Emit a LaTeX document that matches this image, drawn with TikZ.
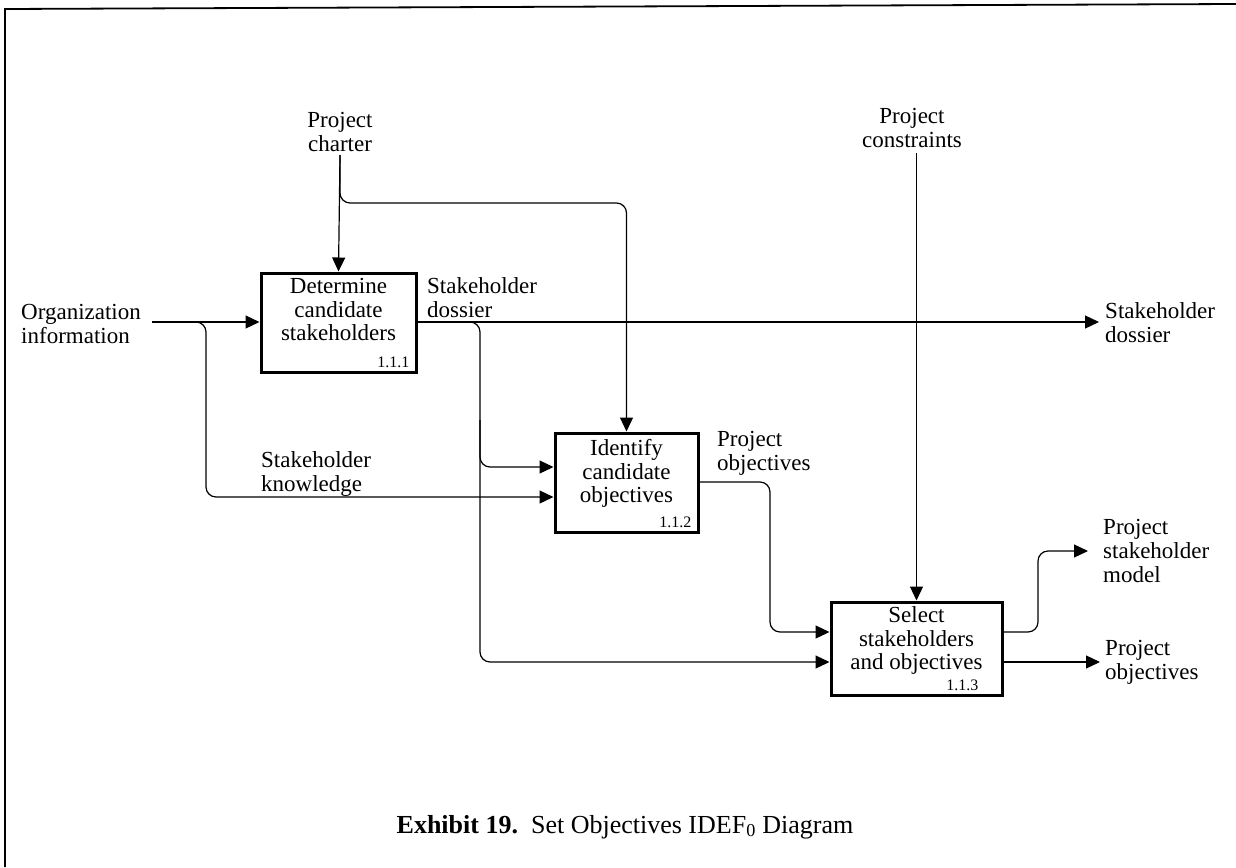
\documentclass[tikz,border=0pt]{standalone}
\usepackage{fontspec}
\setmainfont{Liberation Serif}
\usetikzlibrary{arrows.meta,calc}

\tikzset{
  flow/.style={line width=1.2pt, -{Triangle[length=14pt,width=13pt]}},
  elbow/.style={rounded corners=10pt},
  actbox/.style={draw, line width=3pt, inner sep=0pt},
  boxtext/.style={align=center, inner sep=0pt, font=\fontsize{23}{23.5}\selectfont},
  boxnum/.style={inner sep=0pt, font=\fontsize{16}{16}\selectfont},
  lbl/.style={inner sep=0pt, font=\fontsize{23}{24}\selectfont},
}

\begin{document}
\begin{tikzpicture}[x=1pt, y=-1pt]
  \useasboundingbox (0,0) rectangle (1236,867);

  % page frame (top and left edges)
  \draw[line width=1.8pt] (5,867) -- (5,9) -- (1236,4);

  % activity boxes
  \node[actbox, minimum width=155pt, minimum height=99pt] (b1) at (338.5,322.5) {};
  \node[actbox, minimum width=143pt, minimum height=99pt] (b2) at (626.5,482.5) {};
  \node[actbox, minimum width=171pt, minimum height=93pt] (b3) at (916.5,648.5) {};

  \node[boxtext, anchor=north] (t1) at ($(b1.north)+(0,7)$) {Determine\\candidate\\stakeholders};
  \node[boxtext, anchor=north] (t2) at ($(b2.north)+(0,8)$) {Identify\\candidate\\objectives};
  \node[boxtext, anchor=north] (t3) at ($(b3.north)+(0,6)$) {Select\\stakeholders\\and objectives};

  \node[boxnum, anchor=south east] (n1) at ($(b1.south east)+(-8,-6)$) {1.1.1};
  \node[boxnum, anchor=south east] (n2) at ($(b2.south east)+(-8,-6)$) {1.1.2};
  \node[boxnum, anchor=south east] (n3) at ($(b3.south east)+(-25,-6)$) {1.1.3};

  % boundary and arrow labels
  \node[lbl, align=left, anchor=west] (org) at (21,323.5) {Organization\\information};
  \node[lbl, align=center] (charter) at (340,132) {Project\\charter};
  \node[lbl, align=center] (constr) at (912,128) {Project\\constraints};
  \node[lbl, align=left, anchor=west] (dos1) at (427,297.5) {Stakeholder\\dossier};
  \node[lbl, align=left, anchor=west] (dos2) at (1105,322.5) {Stakeholder\\dossier};
  \node[lbl, align=left, anchor=west] (know) at (261,474) {Stakeholder\\knowledge};
  \node[lbl, align=left, anchor=west] (pobj1) at (717,453.5) {Project\\objectives};
  \node[lbl, align=left, anchor=west] (psm) at (1103,551) {Project\\stakeholder\\model};
  \node[lbl, align=left, anchor=west] (pobj2) at (1105,662) {Project\\objectives};

  % ports and free ends
  \coordinate (orgEnd) at (152,322);
  \coordinate (charterEnd) at (340,155);
  \coordinate (constrEnd) at (916.5,153);
  \coordinate (b1in) at (b1.west |- orgEnd);
  \coordinate (b1out) at (b1.east |- orgEnd);
  \coordinate (b2in1) at (b2.west |- 0,467);
  \coordinate (b2in2) at (b2.west |- 0,497);
  \coordinate (b2out) at (b2.east |- 0,482);
  \coordinate (b3in1) at (b3.west |- 0,632);
  \coordinate (b3in2) at (b3.west |- 0,662);
  \coordinate (b3out1) at (b3.east |- 0,632);
  \coordinate (b3out2) at (b3.east |- 0,662);
  \coordinate (dosTip) at ($(dos2.west |- orgEnd)+(-6,0)$);
  \coordinate (psmTip) at (1088,551);
  \coordinate (pobjTip) at (1100,662);

  % inputs
  \draw[flow] (orgEnd) -- (b1in);
  \draw[flow, elbow] (orgEnd) -| (206,497) -- (b2in2);

  % controls
  \draw[flow] (charterEnd) -- (b1.north);
  \draw[flow, elbow] (charterEnd) |- (b2.north |- 0,203) -- (b2.north);
  \draw[flow] (constrEnd) -- (b3.north);

  % stakeholder dossier
  \draw[flow] (b1out) -- (dosTip);
  \draw[flow, elbow] (b1out) -| (480,662) -- (b3in2);
  \draw[flow, elbow] (480,420) |- (b2in1);

  % project objectives from 1.1.2
  \draw[flow, elbow] (b2out) -| (770,632) -- (b3in1);

  % outputs of 1.1.3
  \draw[flow, elbow] (b3out1) -| (1038,551) -- (psmTip);
  \draw[flow] (b3out2) -- (pobjTip);

  % caption
  \node[inner sep=0pt, font=\fontsize{26}{26}\selectfont] (cap) at (625,827)
    {\textbf{Exhibit 19.}\ \ Set Objectives IDEF\textsubscript{0} Diagram};
\end{tikzpicture}
\end{document}
